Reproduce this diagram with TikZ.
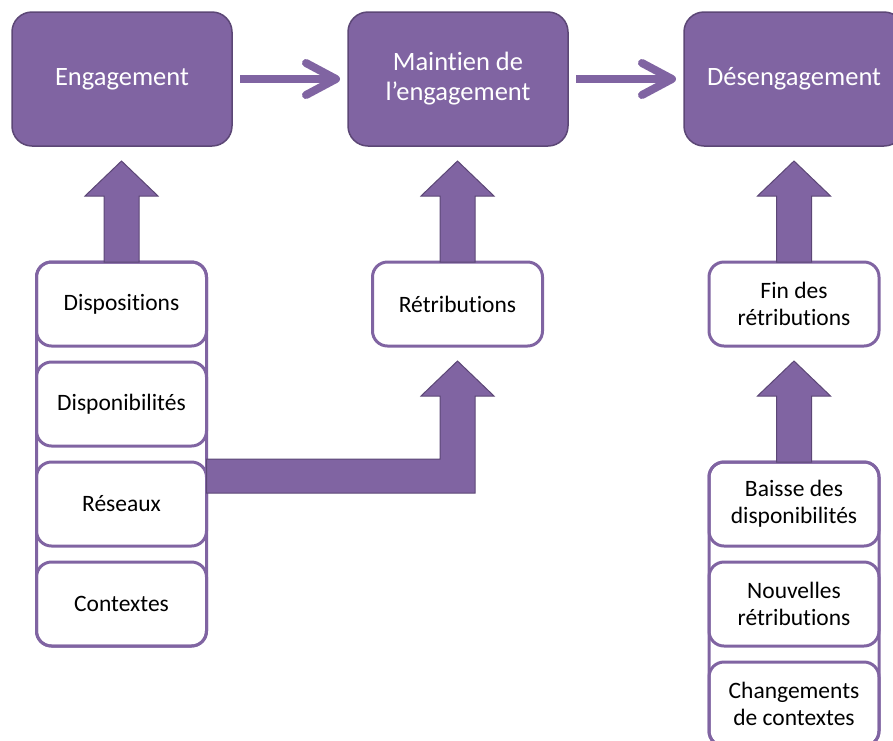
\documentclass[tikz,border=0pt]{standalone}
\usepackage{fontspec}
\setmainfont{Carlito}[Ligatures=NoCommon]
\usetikzlibrary{positioning}
\usetikzlibrary{arrows.meta, calc}

\definecolor{purplefill}{HTML}{8064A2}
\definecolor{purpleline}{HTML}{5C4776}

\tikzset{
  phase/.style={rectangle, rounded corners=20pt, fill=purplefill, draw=purpleline, line width=1.5pt,
    minimum width=220pt, minimum height=134pt, outer sep=0pt, text=white, align=center,
    font=\fontsize{26.5}{30}\selectfont},
  factor/.style={rectangle, rounded corners=15pt, fill=white, draw=purplefill, line width=3pt,
    minimum width=170pt, minimum height=84pt, outer sep=0pt, align=center,
    font=\fontsize{23.5}{27}\selectfont},
  frame/.style={draw=purplefill, line width=3pt, rounded corners=15pt},
  flow/.style={draw=purplefill, line width=8pt, -{Straight Barb[length=30pt,width=32pt,round]},
    shorten <=8pt, shorten >=8pt},
  blockarrow/.style={fill=purplefill, draw=purpleline, line width=1pt, line join=miter}
}

% block arrow going up from the top of #1 to just under #2
\newcommand{\pushup}[2]{%
  \draw[blockarrow] let \p1=(#1.north), \p2=(#2.south) in
    (\x1-17.5pt,\y1) -- (\x1-17.5pt,\y2-50pt) -- (\x1-36.5pt,\y2-50pt) -- (\x1,\y2-15pt)
    -- (\x1+36.5pt,\y2-50pt) -- (\x1+17.5pt,\y2-50pt) -- (\x1+17.5pt,\y1) -- cycle;
}

\begin{document}
\begin{tikzpicture}[x=1pt,y=-1pt]
\clip (0,0) rectangle (893,740);

% phases
\node[phase] (eng) at (122,79) {Engagement};
\node[phase] (maint) at (458,79) {Maintien de\\l’engagement};
\node[phase] (deseng) at (794,79) {Désengagement};

\draw[flow] (eng) -- (maint);
\draw[flow] (maint) -- (deseng);

% facteurs d'engagement
\node[factor] (disp) at (121.5,304) {Dispositions};
\node[factor, below=16pt of disp] (dispo) {Disponibilités};
\node[factor, below=16pt of dispo] (res) {Réseaux};
\node[factor, below=16pt of res] (ctx) {Contextes};
\draw[frame] (disp.north west) rectangle (ctx.south east);

% maintien
\node[factor] (retr) at (457.5,304) {Rétributions};

% desengagement
\node[factor] (fin) at (794,304) {Fin des\\rétributions};
\node[factor] (baisse) at (794,504) {Baisse des\\disponibilités};
\node[factor, below=16pt of baisse] (nouv) {Nouvelles\\rétributions};
\node[factor, below=16pt of nouv] (chang) {Changements\\de contextes};
\draw[frame] (baisse.north west) rectangle (chang.south east);

\pushup{disp}{eng}
\pushup{retr}{maint}
\pushup{fin}{deseng}
\pushup{baisse}{fin}

% reseaux -> retributions
\draw[blockarrow] let \p1=(res.north east), \p2=(retr.south) in
  (\x1,\y1+3pt) -- (\x2-17.5pt,\y1+3pt) -- (\x2-17.5pt,\y2-50pt) -- (\x2-36.5pt,\y2-50pt)
  -- (\x2,\y2-15pt) -- (\x2+36.5pt,\y2-50pt) -- (\x2+17.5pt,\y2-50pt)
  -- (\x2+17.5pt,\y1-31pt) -- (\x1,\y1-31pt) -- cycle;

\end{tikzpicture}
\end{document}
